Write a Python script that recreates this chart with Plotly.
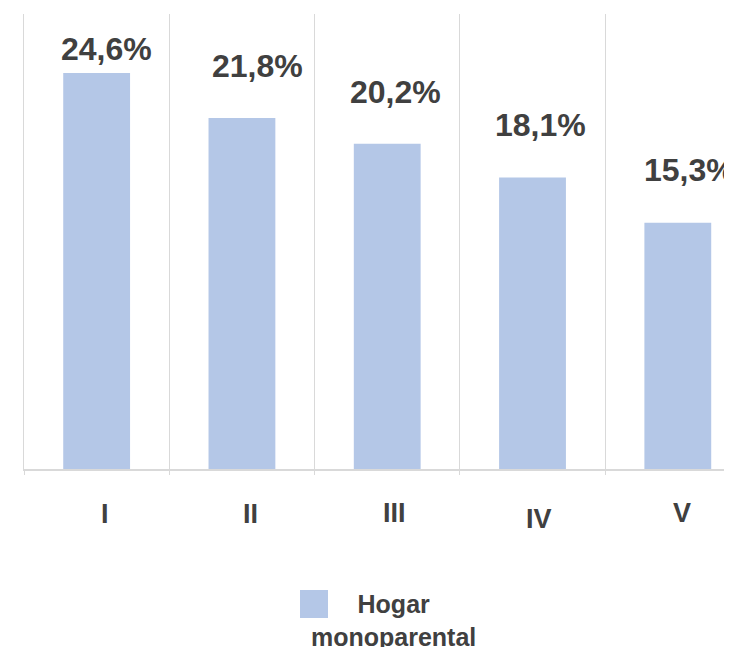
import plotly.graph_objects as go

categories = ["I", "II", "III", "IV", "V"]
values = [24.6, 21.8, 20.2, 18.1, 15.3]
value_labels = ["24,6%", "21,8%", "20,2%", "18,1%", "15,3%"]
series_name = "Hogar<br>monoparental"

# style nudges (pixels) for labels, as in the reference
label_dx = [10, 16, 8, 8, 12]
label_dy = [4, 32, 32, 33, 33]
tick_dx = [8, 9, 7, 6, 4]
tick_dy = [0, 0, 1, -5, 1]

BAR = "#b4c7e7"
TXT = "#404040"
GRID = "#d9d9d9"
FONT = "Liberation Sans, Arial, sans-serif"

xs = list(range(len(categories)))

fig = go.Figure()
fig.add_trace(go.Bar(
    x=xs, y=values, width=0.46, marker=dict(color=BAR, line=dict(width=0)),
    name=series_name, showlegend=False, hoverinfo="skip",
))

annotations = []
for i, (v, t) in enumerate(zip(values, value_labels)):
    annotations.append(dict(
        x=xs[i], y=v, xref="x", yref="y", text=t, showarrow=False,
        yanchor="bottom", xanchor="center", xshift=label_dx[i], yshift=label_dy[i],
        font=dict(family=FONT, size=32, color=TXT, weight="bold"),
    ))
for i, c in enumerate(categories):
    annotations.append(dict(
        x=xs[i], y=0, xref="x", yref="paper", text=c, showarrow=False,
        yanchor="top", xanchor="center", xshift=tick_dx[i], yshift=-28 + tick_dy[i],
        font=dict(family=FONT, size=27, color=TXT, weight="bold"),
    ))
# legend text
annotations.append(dict(
    x=0.5212, y=-0.334, xref="paper", yref="paper", text=series_name, showarrow=False,
    xanchor="center", yanchor="middle", align="center",
    font=dict(family=FONT, size=25, color=TXT, weight="bold"),
))

# the page's body has an 8px margin, so the figure is 8px smaller on each axis
fig.update_layout(
    width=724, height=639,
    margin=dict(l=16, r=0, t=6, b=178),
    paper_bgcolor="white", plot_bgcolor="white",
    showlegend=False,
    annotations=annotations,
    shapes=[dict(type="rect", xref="paper", yref="paper",
                 x0=0.3898, x1=0.4294, y0=-0.3275, y1=-0.2659,
                 fillcolor=BAR, line=dict(width=0))],
    xaxis=dict(
        range=[-0.5, 4.373],
        tickvals=[x - 0.5 for x in xs] + [len(xs) - 0.5],
        ticktext=[""] * (len(xs) + 1),
        showgrid=True, gridcolor=GRID, gridwidth=1,
        ticks="outside", ticklen=4, tickcolor=GRID,
        showline=True, linecolor=GRID, linewidth=2,
        zeroline=False, fixedrange=True,
    ),
    yaxis=dict(
        range=[0, 28.26], showgrid=False, showticklabels=False,
        showline=True, linecolor=GRID, linewidth=1,
        zeroline=False, ticks="", fixedrange=True,
    ),
)

fig.write_html("out.html", config={"displayModeBar": False})
